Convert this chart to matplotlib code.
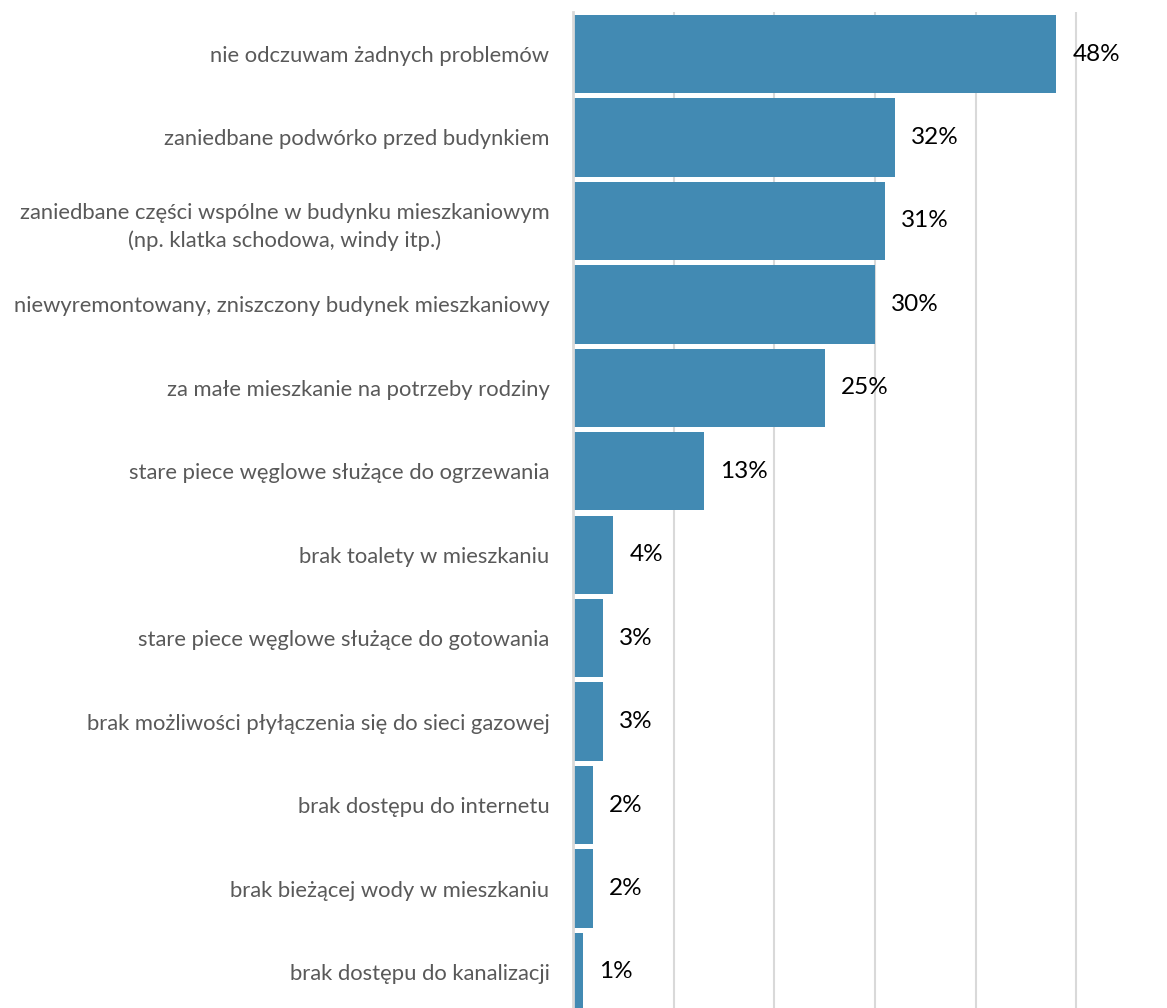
import matplotlib
matplotlib.use("Agg")
import matplotlib.pyplot as plt

categories = [
    "nie odczuwam żadnych problemów",
    "zaniedbane podwórko przed budynkiem",
    "zaniedbane części wspólne w budynku mieszkaniowym\n(np. klatka schodowa, windy itp.)",
    "niewyremontowany, zniszczony budynek mieszkaniowy",
    "za małe mieszkanie na potrzeby rodziny",
    "stare piece węglowe służące do ogrzewania",
    "brak toalety w mieszkaniu",
    "stare piece węglowe służące do gotowania",
    "brak możliwości płyłączenia się do sieci gazowej",
    "brak dostępu do internetu",
    "brak bieżącej wody w mieszkaniu",
    "brak dostępu do kanalizacji",
]
values = [48, 32, 31, 30, 25, 13, 4, 3, 3, 2, 2, 1]
value_labels = ["48%", "32%", "31%", "30%", "25%", "13%", "4%", "3%", "3%", "2%", "2%", "1%"]

plt.rcParams['font.family'] = ['Lato', 'DejaVu Sans']

fig = plt.figure(figsize=(11.67, 10.08), dpi=100)
ax = fig.add_axes([573/1167, 1 - 1013.7/1008, 1 - 573/1167, 1001.4/1008])

y = list(range(len(categories)))
ax.barh(y, values, height=0.94, color="#428AB3", zorder=2)
ax.set_ylim(len(categories) - 0.5, -0.5)
ax.set_xlim(0, 59)

ax.set_xticks([10, 20, 30, 40, 50])
ax.set_xticklabels([])
ax.tick_params(axis='x', length=0)
ax.grid(axis='x', color="#D9D9D9", linewidth=1.5, zorder=0)
ax.set_axisbelow(True)

for s in ['top', 'right', 'bottom']:
    ax.spines[s].set_visible(False)
ax.spines['left'].set_color("#D9D9D9")
ax.spines['left'].set_linewidth(2)
ax.spines['left'].set_zorder(3)

ax.set_yticks(y)
ax.set_yticklabels(categories, fontsize=15.85, color="#595959")
ax.tick_params(axis='y', length=0, pad=17)
for lbl in ax.get_yticklabels():
    lbl.set_multialignment('center')
    lbl.set_linespacing(1.45)

for yi, v, t in zip(y, values, value_labels):
    ax.annotate(t, xy=(v, yi), xytext=(16, 0), textcoords='offset pixels',
                ha='left', va='center', fontsize=17.5, color="#000000", zorder=4)

fig.savefig("out.png", dpi=100)
